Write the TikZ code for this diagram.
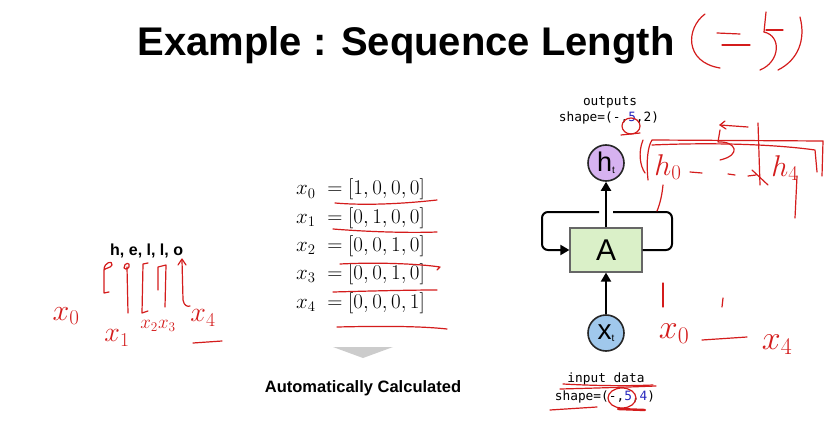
\RequirePackage{fix-cm}
\documentclass[tikz,border=0pt]{standalone}
\usepackage{fontspec}
\setmainfont{Liberation Sans}
\newfontfamily\monof{DejaVu Sans Mono}
\usetikzlibrary{arrows.meta}
\definecolor{hwred}{RGB}{212,28,28}
\definecolor{numblue}{RGB}{40,40,190}
\definecolor{hfill}{RGB}{214,178,240}
\definecolor{xfill}{RGB}{160,200,236}
\definecolor{afill}{RGB}{218,240,200}
\definecolor{tri}{RGB}{204,204,204}
\tikzset{
  hw/.style={draw=hwred, line width=1.2pt, line cap=round, line join=round},
  hwtext/.style={text=hwred, inner sep=0pt},
  bold/.style={font=\bfseries, inner sep=0pt},
  mono/.style={font=\monof\fontsize{12.8}{14}\selectfont, inner sep=0pt},
  eqn/.style={font=\fontsize{21}{24}\selectfont, inner sep=0pt, anchor=base west},
  circ/.style={circle, draw=black!85, line width=1.6pt, minimum size=36pt, inner sep=0pt},
  cellbox/.style={draw=black!60, line width=1.2pt, fill=afill, minimum width=72pt, minimum height=44pt, inner sep=0pt, font=\fontsize{30}{30}\selectfont},
  arr/.style={draw=black, line width=2pt, -{Triangle[length=9pt,width=10pt]}},
  loopline/.style={draw=black, line width=2pt, rounded corners=6pt}
}
\begin{document}
\begin{tikzpicture}[x=1pt,y=-1pt]
\useasboundingbox[fill=white] (0,0) rectangle (832,422);

% title
\node[bold, anchor=base, font=\bfseries\fontsize{40}{44}\selectfont] (title) at (406,56) {Example : Sequence Length};

% hello
\node[bold, anchor=base west, font=\bfseries\fontsize{16}{18}\selectfont] (hello) at (110,255) {h, e, l, l, o};

% equations
\node[eqn] (e0) at (296,195) {$x_0\;=[1,0,0,0]$};
\node[eqn] (e1) at (296,223) {$x_1\;=[0,1,0,0]$};
\node[eqn] (e2) at (296,251) {$x_2\;=[0,0,1,0]$};
\node[eqn] (e3) at (296,279) {$x_3\;=[0,0,1,0]$};
\node[eqn] (e4) at (296,308) {$x_4\;=[0,0,0,1]$};

% grey triangle
\fill[tri] (333,347) -- (393,347) -- (363,358) -- cycle;
\node[bold, anchor=base, font=\bfseries\fontsize{16.5}{18}\selectfont] (auto) at (363,392) {Automatically Calculated};

% RNN cell
\node[cellbox] (A) at (606,250) {A};
\node[circ, fill=hfill] (ht) at (606,163) {\fontsize{27}{27}\selectfont h\raisebox{-2pt}{\fontsize{10}{10}\selectfont t}};
\node[circ, fill=xfill] (xt) at (606,333) {\fontsize{28}{28}\selectfont x\raisebox{-2pt}{\fontsize{10}{10}\selectfont t}};
\coordinate (gr) at (613,212);
\coordinate (gl) at (599,212);
\draw[arr] (A.north) -- (ht.south);
\draw[arr] (xt.north) -- (A.south);
\draw[loopline] (A.east) -- (672,250) -- (672,212) -- (gr);
\draw[loopline, -{Triangle[length=9pt,width=10pt]}] (gl) -- (542,212) -- (542,250) -- (A.west);

% mono labels
\node[mono, anchor=base] (out1) at (610,106) {outputs};
\node[mono, anchor=base] (out2) at (609,122) {shape=(-,\textcolor{numblue}{5},2)};
\node[mono, anchor=base] (in1) at (606,382) {input data};
\node[mono, anchor=base] (in2) at (605,400) {shape=(-,\textcolor{numblue}{5},\textcolor{numblue}{4})};

% ---------------- handwriting ----------------
% (=5) near title
\draw[hw] (705,14) .. controls (686,28) and (684,62) .. (720,68);
\draw[hw] (717,33) -- (740,34);
\draw[hw] (722,45) -- (750,45);
\draw[hw] (766,12) -- (764,32);
\draw[hw] (766,30) -- (783,30);
\draw[hw] (764,32) .. controls (782,36) and (780,62) .. (760,70);
\draw[hw] (800,17) .. controls (806,40) and (798,60) .. (778,70);

% underlines of equations
\draw[hw] (335,203) .. controls (370,206) and (410,203) .. (437,200);
\draw[hw] (333,229) .. controls (370,232) and (410,233) .. (437,232);
\draw[hw] (340,264) .. controls (380,262) and (420,264) .. (440,267) -- (437,270);
\draw[hw] (333,292) .. controls (370,291) and (410,290) .. (437,290);
\draw[hw] (337,327) .. controls (380,326) and (420,326) .. (447,329);

% hello strokes
\draw[hw] (104,270) .. controls (104,262) and (113,260) .. (112,265) .. controls (111,268) and (105,268) .. (104,270) -- (104,293) -- (109,292);
\draw[hw] (124,268) .. controls (124,262) and (131,262) .. (129,267) .. controls (127,270) and (124,269) .. (124,268);
\draw[hw] (127,267) -- (128,313);
\draw[hw] (148,263) -- (143,264) -- (142,313) -- (148,311);
\draw[hw] (158,290) -- (158,267) -- (166,265) -- (165,307);
\draw[hw] (178,265) -- (182,259) -- (186,265);
\draw[hw] (182,260) -- (183,300) .. controls (184,306) and (188,307) .. (190,306);
\node[hwtext, font=\fontsize{30}{30}\selectfont] (hx0) at (66,316) {$x_0$};
\node[hwtext, font=\fontsize{28}{28}\selectfont] (hx1) at (117,338) {$x_1$};
\node[hwtext, font=\fontsize{19}{19}\selectfont] (hx23) at (158,326) {$x_2x_3$};
\node[hwtext, font=\fontsize{28}{28}\selectfont] (hx4) at (203,318) {$x_4$};
\draw[hw] (193,343) -- (222,341);

% right handwriting, outputs
\draw[hw] (631,126) ellipse (9pt and 8pt);
\draw[hw] (621,135) -- (640,133);
\draw[hw] (643,140) .. controls (638,152) and (640,166) .. (645,173);
\draw[hw] (648,180) .. controls (646,160) and (648,146) .. (652,140) -- (823,141) -- (822,176);
\draw[hw] (652,145) .. controls (720,142) and (780,145) .. (815,150) -- (817,172);
\node[hwtext, font=\fontsize{30}{30}\selectfont] (rh0) at (668,167) {$h_0$};
\draw[hw] (690,172) -- (702,173);
\draw[hw] (728,174) -- (735,175);
\draw[hw] (748,176) -- (756,175);
\draw[hw] (720,125) -- (748,127);
\draw[hw] (725,121) -- (720,125) -- (726,129);
\draw[hw] (720,130) -- (718,142) .. controls (736,141) and (742,155) .. (720,160);
\draw[hw] (758,123) -- (760,185);
\draw[hw] (752,170) -- (768,185);
\node[hwtext, font=\fontsize{30}{30}\selectfont] (rh4) at (785,168) {$h_4$};
\draw[hw] (797,176) -- (795,218);
\draw[hw] (663,185) .. controls (662,195) and (660,204) .. (657,211);

% right handwriting, inputs
\draw[hw] (663,283) -- (663,307);
\draw[hw] (723,298) -- (722,307);
\node[hwtext, font=\fontsize{34}{34}\selectfont] (rx0) at (674,334) {$x_0$};
\draw[hw] (702,340) -- (747,337);
\node[hwtext, font=\fontsize{34}{34}\selectfont] (rx4) at (777,345) {$x_4$};
\draw[hw] (563,384) .. controls (600,386) and (630,386) .. (653,385);
\draw[hw] (560,389) .. controls (600,388) and (630,387) .. (656,386);
\draw[hw] (622,398) ellipse (14pt and 10pt);
\draw[hw, line width=2.4pt] (618,409) -- (645,410);
\draw[hw] (550,410) -- (597,407);
\end{tikzpicture}
\end{document}
